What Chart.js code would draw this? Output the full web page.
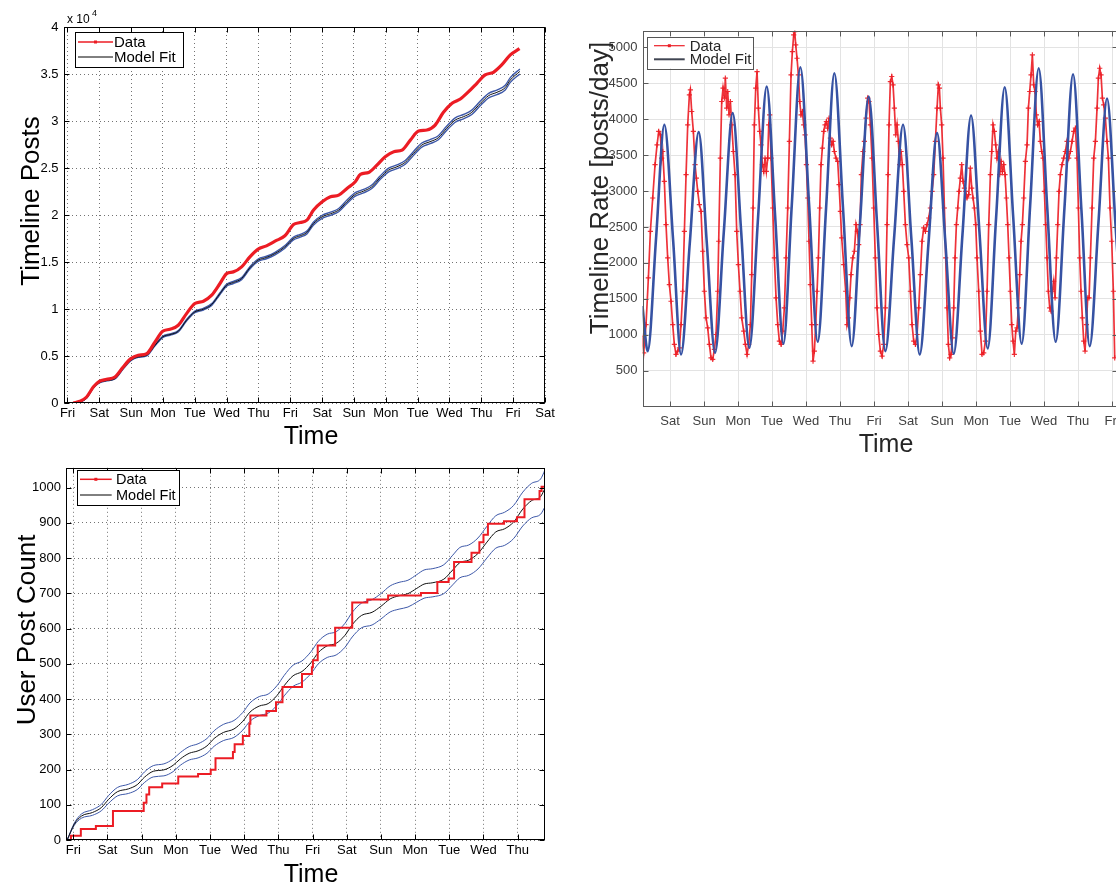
<!DOCTYPE html>
<html>
<head>
<meta charset="utf-8">
<title>Timeline posts</title>
<script src="https://cdn.jsdelivr.net/npm/chart.js@4.4.1/dist/chart.umd.min.js"></script>
<style>
  html, body { margin: 0; padding: 0; background: #fff; }
  body { width: 1116px; height: 886px; overflow: hidden; position: relative; }
  canvas { position: absolute; }
</style>
</head>
<body>
<canvas id="postsChart" width="560" height="450" style="left:0;top:0"></canvas>
<canvas id="rateChart" width="580" height="460" style="left:570px;top:0"></canvas>
<canvas id="userChart" width="560" height="434" style="left:0;top:455px"></canvas>
<script>
Chart.defaults.font.family = '"Liberation Sans", Arial, Helvetica, sans-serif';
Chart.defaults.animation = false;

// x values are days since the first Friday midnight
var dayNames = ['Fri', 'Sat', 'Sun', 'Mon', 'Tue', 'Wed', 'Thu'];

// ---- Timeline posts (cumulative) ----
var postsT = [0.18, 0.39, 0.60, 0.81, 1.0, 1.23, 1.49, 1.75, 1.99, 2.22, 2.49, 2.75, 2.99, 3.22, 3.48, 3.74, 4.0, 4.27, 4.53, 4.79,
  5.0, 5.21, 5.47, 5.73, 5.99, 6.25, 6.52, 6.83, 7.10, 7.31, 7.52, 7.73, 8.0, 8.26, 8.52, 8.78, 9.04, 9.2, 9.46, 9.72,
  9.98, 10.25, 10.51, 10.77, 11.03, 11.29, 11.55, 11.81, 12.08, 12.34, 12.6, 12.86, 13.12, 13.38, 13.64, 13.91, 14.2];
var postsV = [0, 180, 640, 1700, 2310, 2520, 2770, 3830, 4720, 5080, 5250, 6500, 7630, 7850, 8270, 9510, 10580, 10830, 11470, 12710,
  13770, 13950, 14480, 15550, 16370, 16720, 17220, 17790, 18990, 19200, 19450, 20520, 21400, 21940, 22120, 22830, 23540, 24320, 24530, 25310,
  26200, 26730, 26910, 27970, 28930, 29040, 29570, 30920, 31880, 32340, 33120, 34010, 34900, 35180, 35960, 37030, 37700];
var postsFitT = [0.18, 0.39, 0.6, 0.81, 1.0, 1.23, 1.49, 1.75, 1.99, 2.22, 2.49, 2.75, 2.99, 3.22, 3.48, 3.74, 4.0, 4.27, 4.53, 4.79,
  5.0, 5.21, 5.47, 5.73, 5.99, 6.25, 6.52, 6.83, 7.10, 7.31, 7.52, 7.73, 8.0, 8.26, 8.52, 8.78, 9.04, 9.30, 9.56, 9.82,
  10.09, 10.35, 10.61, 10.87, 11.13, 11.39, 11.65, 11.91, 12.18, 12.44, 12.7, 12.97, 13.23, 13.49, 13.75, 13.91, 14.21];
var postsFitV = [0, 106, 530, 1600, 2170, 2380, 2590, 3660, 4540, 4900, 5080, 6140, 7030, 7280, 7630, 8800, 9690, 9980, 10480, 11640,
  12530, 12820, 13240, 14380, 15190, 15480, 15900, 16610, 17500, 17790, 18140, 19100, 19810, 20130, 20520, 21410, 22190, 22540, 23000, 23960,
  24780, 25130, 25600, 26550, 27440, 27800, 28220, 29220, 30100, 30460, 30920, 31880, 32700, 33050, 33550, 34360, 35270];
// half width of the blue confidence band around the fit
var postsFitHalf = [0, 5, 10, 18, 25, 28, 32, 40, 48, 52, 55, 62, 70, 72, 75, 82, 90, 92, 95, 102,
  110, 112, 115, 122, 130, 132, 135, 140, 148, 150, 152, 158, 165, 167, 170, 176, 182, 184, 187, 192,
  198, 200, 203, 208, 214, 216, 219, 224, 230, 232, 235, 240, 245, 247, 250, 255, 260];

// ---- Timeline rate (posts/day) ----
var rateT = [
  0.167, 0.225, 0.294, 0.363, 0.422, 0.490, 0.559, 0.618, 0.667, 0.716, 0.755, 0.784, 0.833, 0.882, 0.931, 0.980,
  1.029, 1.078, 1.127, 1.176, 1.225, 1.275, 1.324, 1.373, 1.422, 1.471, 1.520, 1.569, 1.598, 1.637, 1.686, 1.735, 1.775, 1.814, 1.863, 1.912, 1.961,
  2.010, 2.059, 2.108, 2.157, 2.206, 2.255, 2.304, 2.353, 2.402, 2.431, 2.480, 2.520, 2.559, 2.598, 2.627, 2.667, 2.696, 2.735, 2.775, 2.814, 2.863, 2.912, 2.961,
  3.010, 3.059, 3.108, 3.167, 3.216, 3.265, 3.314, 3.363, 3.402, 3.441, 3.480, 3.520, 3.559, 3.598, 3.637, 3.676, 3.716, 3.755, 3.794, 3.833, 3.873, 3.902, 3.931, 3.971,
  4.020, 4.069, 4.118, 4.167, 4.216, 4.265, 4.314, 4.363, 4.412, 4.461, 4.510, 4.559, 4.598, 4.637, 4.667, 4.696, 4.735, 4.775, 4.814, 4.853, 4.892, 4.931, 4.971,
  5.010, 5.049, 5.088, 5.127, 5.167, 5.206, 5.245, 5.284, 5.324, 5.363, 5.402, 5.441, 5.480, 5.520, 5.559, 5.598, 5.637, 5.676, 5.716, 5.755, 5.794, 5.833, 5.882, 5.931, 5.971,
  6.010, 6.049, 6.108, 6.167, 6.206, 6.245, 6.284, 6.324, 6.373, 6.422, 6.471, 6.510, 6.549, 6.588, 6.627, 6.676, 6.716, 6.765, 6.814, 6.853, 6.892, 6.941, 6.990,
  7.039, 7.088, 7.137, 7.186, 7.235, 7.284, 7.333, 7.382, 7.412, 7.441, 7.480, 7.520, 7.559, 7.598, 7.637, 7.676, 7.716, 7.755, 7.794, 7.833, 7.873, 7.922, 7.971,
  8.020, 8.069, 8.118, 8.167, 8.216, 8.265, 8.314, 8.363, 8.412, 8.461, 8.510, 8.559, 8.608, 8.657, 8.706, 8.755, 8.804, 8.853, 8.892, 8.922, 8.951, 8.990,
  9.029, 9.069, 9.108, 9.147, 9.186, 9.225, 9.265, 9.304, 9.343, 9.382, 9.422, 9.461, 9.500, 9.539, 9.578, 9.618, 9.657, 9.696, 9.735, 9.784, 9.833, 9.873, 9.912, 9.951, 9.990,
  10.029, 10.078, 10.127, 10.176, 10.225, 10.275, 10.324, 10.373, 10.422, 10.461, 10.500, 10.539, 10.578, 10.618, 10.657, 10.696, 10.735, 10.775, 10.814, 10.853, 10.892, 10.931, 10.971,
  11.010, 11.049, 11.088, 11.127, 11.167, 11.206, 11.245, 11.284, 11.324, 11.363, 11.402, 11.451, 11.500, 11.539, 11.578, 11.618, 11.657, 11.696, 11.735, 11.775, 11.814, 11.853, 11.892, 11.931, 11.971,
  12.010, 12.049, 12.088, 12.127, 12.167, 12.206, 12.245, 12.284, 12.324, 12.363, 12.402, 12.441, 12.480, 12.529, 12.578, 12.627, 12.676, 12.725, 12.775, 12.824, 12.873, 12.922, 12.971,
  13.010, 13.049, 13.088, 13.127, 13.167, 13.206, 13.245, 13.284, 13.324, 13.363, 13.412, 13.461, 13.510, 13.559, 13.598, 13.637, 13.676, 13.716, 13.755, 13.804, 13.853, 13.892, 13.941, 13.990,
  14.039, 14.078];
var rateV = [
  981, 750, 1143, 1791, 2440, 2903, 3366, 3643, 3829, 3782, 3458, 3550, 3134, 2532, 2069, 1699,
  1467, 1143, 866, 727, 773, 819, 1143, 1606, 2440, 3227, 3921, 4338, 4407, 4106, 3829, 3366, 3180, 2995, 2810, 2717, 2162,
  1606, 1236, 1097, 866, 680, 657, 796, 1004, 1606, 2301, 3458, 4245, 4431, 4292, 4569, 4153, 4384, 4060, 4245, 3921, 3550, 3227, 2440,
  1977, 1606, 1236, 1051, 866, 727, 866, 1143, 1838, 2764, 3921, 4431, 4662, 4153, 3829, 3643, 3366, 3273, 3458, 3273, 3458, 3921, 4060, 3458,
  2764, 2069, 1514, 1143, 912, 866, 1051, 1375, 2069, 2764, 3690, 4616, 4940, 5171, 5218, 5032, 4847, 4616, 4245, 4060, 4106, 3921, 3782,
  3366, 2903, 2301, 1699, 1143, 634, 773, 1143, 1606, 2069, 2764, 3366, 3597, 3829, 3921, 3967, 3875, 4014, 3736, 3643, 3690, 3550, 3458, 3412, 3088,
  2717, 2347, 1977, 1606, 1143, 1236, 1514, 1838, 2069, 2162, 2532, 2440, 2255, 2532, 3227, 3550, 3690, 4014, 4292, 4245, 3921, 3458, 2764,
  2069, 1375, 1004, 773, 703, 866, 1375, 2532, 3227, 3921, 4523, 4593, 4477, 4153, 3782, 3921, 3690, 3366, 3550, 3366, 2995, 2532, 2255,
  2069, 1606, 1143, 912, 866, 1004, 1375, 1838, 2301, 2486, 2440, 2532, 2625, 2764, 2995, 3227, 3690, 4153, 4477, 4431, 4153, 3921,
  3458, 2764, 2069, 1375, 866, 680, 727, 958, 1375, 2069, 2532, 2764, 2995, 3180, 3366, 3134, 3041, 2995, 2903, 2949, 3319, 3041, 2903, 2764, 2532,
  2069, 1606, 1051, 727, 750, 912, 1606, 2532, 3227, 3550, 3921, 3829, 3643, 3458, 3550, 3227, 3412, 3273, 3366, 3227, 2903, 2532, 2069,
  1606, 1143, 912, 727, 1051, 1097, 1375, 1838, 2301, 2532, 2903, 3412, 3643, 4153, 4384, 4616, 4893, 4477, 4384, 4060, 3921, 3967, 3690, 3550, 3458,
  2995, 2532, 2069, 1606, 1375, 1329, 1606, 1745, 1514, 2069, 2532, 2995, 3227, 3366, 3458, 3550, 3690, 3458, 3550, 3690, 3829, 3875, 3458,
  2764, 2069, 1606, 1236, 912, 773, 1143, 1514, 1514, 2069, 2764, 3458, 3690, 4153, 4569, 4708, 4616, 4292, 4199, 4014, 3690, 3458, 2764, 2301,
  1606, 680];
var rateFitT = [0.19, 0.343, 0.59, 0.833, 1.09, 1.324, 1.58, 1.843, 2.08, 2.324, 2.58, 2.843, 3.09, 3.333, 3.59, 3.843, 4.09, 4.333, 4.58, 4.833,
  5.09, 5.343, 5.59, 5.833, 6.09, 6.343, 6.59, 6.843, 7.09, 7.333, 7.59, 7.853, 8.1, 8.343, 8.6, 8.853, 9.1, 9.343, 9.6, 9.853,
  10.1, 10.343, 10.59, 10.843, 11.09, 11.343, 11.59, 11.843, 12.09, 12.343, 12.6, 12.853, 13.1, 13.343, 13.6, 13.853, 14.1, 14.34];
var rateFitV = [1400, 773, 2350, 3921, 2320, 727, 2270, 3819, 2285, 750, 2420, 4083, 2450, 819, 2640, 4454, 2660, 875, 2800, 4722,
  2810, 903, 2770, 4639, 2740, 842, 2580, 4315, 2540, 773, 2350, 3921, 2320, 727, 2265, 3806, 2270, 736, 2390, 4051,
  2430, 810, 2630, 4444, 2660, 875, 2790, 4708, 2800, 903, 2760, 4625, 2730, 842, 2560, 4287, 2540, 780];

// ---- User post count ----
var userT = [-0.21, -0.07, 0.22, 0.66, 1.16, 2.06, 2.14, 2.22, 2.6, 3.07, 3.65, 4.02, 4.16, 4.67, 4.72, 4.96, 5.15, 5.18, 5.65, 5.93,
  6.12, 6.69, 6.98, 7.01, 7.15, 7.66, 8.16, 8.6, 9.21, 10.17, 10.65, 10.98, 11.14, 11.65, 11.88, 12.0, 12.13, 12.6, 12.98, 13.2,
  13.64, 13.7, 13.8];
var userV = [0, 12, 31, 40, 82, 106, 129, 150, 160, 180, 187, 199, 232, 250, 272, 295, 330, 353, 366, 391,
  434, 471, 490, 510, 552, 602, 674, 682, 694, 701, 732, 742, 789, 815, 845, 866, 897, 904, 916, 967,
  990, 1002, 1002];
var userFitT = [-0.18, 0.03, 0.24, 0.56, 0.82, 1.03, 1.29, 1.61, 1.87, 2.08, 2.34, 2.65, 2.92, 3.13, 3.39, 3.65, 3.91, 4.12, 4.39, 4.7,
  4.96, 5.17, 5.44, 5.7, 5.96, 6.17, 6.43, 6.69, 6.96, 7.17, 7.43, 7.69, 7.95, 8.16, 8.43, 8.74, 9.0, 9.27, 9.53, 9.79,
  10.05, 10.26, 10.52, 10.84, 11.1, 11.31, 11.57, 11.84, 12.1, 12.36, 12.62, 12.88, 13.15, 13.41, 13.67, 13.8];
var userFitV = [0, 45, 68, 78, 92, 115, 137, 145, 157, 178, 195, 199, 212, 230, 246, 253, 267, 288, 305, 315,
  337, 363, 380, 387, 410, 438, 466, 478, 504, 532, 551, 558, 581, 611, 637, 646, 663, 684, 693, 699,
  714, 726, 730, 740, 766, 787, 794, 813, 845, 874, 883, 902, 939, 963, 974, 998];
var userFitHalf = [0, 3, 6, 8, 9, 11, 12, 13, 14, 15, 16, 17, 18, 18, 19, 20, 21, 22, 23, 24,
  25, 26, 27, 27, 28, 29, 30, 30, 31, 32, 33, 33, 34, 35, 35, 36, 36, 37, 38, 38,
  39, 40, 40, 41, 42, 43, 43, 44, 45, 46, 47, 47, 48, 49, 50, 52];

// ---------------------------------------------------------------
function pts(t, v, half, sign) {
  return t.map(function (x, i) {
    return { x: x, y: v[i] + (half ? sign * half[i] : 0) };
  });
}

function stepTicks(from, to, step) {
  return function (axis) {
    axis.ticks = [];
    for (var v = from; v <= to + 1e-9; v += step) axis.ticks.push({ value: v });
  };
}

function dayAxis(o) {
  return {
    type: 'linear', min: o.min, max: o.max,
    afterBuildTicks: stepTicks(o.first, o.last, 1),
    afterFit: function (s) { s.height = o.height; },
    ticks: { autoSkip: false, maxRotation: 0, padding: o.pad, color: o.tickColor, font: { size: 13 },
      callback: function (v) { return dayNames[((v % 7) + 7) % 7]; } },
    grid: { color: o.gridColor, drawTicks: false, lineWidth: 1 },
    border: { display: false, dash: o.dash }
  };
}

function valueAxis(o) {
  return {
    type: 'linear', min: o.min, max: o.max,
    afterBuildTicks: stepTicks(o.first, o.last, o.step),
    afterFit: function (s) { s.width = o.width; },
    ticks: { padding: 5, color: o.tickColor, font: { size: 13 }, callback: o.label },
    grid: { color: o.gridColor, drawTicks: false, lineWidth: 1 },
    border: { display: false, dash: o.dash }
  };
}

// axes box with inward tick marks
function framePlugin(color, len) {
  return {
    id: 'frame',
    afterDatasetsDraw: function (chart) {
      var ctx = chart.ctx, a = chart.chartArea, x = chart.scales.x, y = chart.scales.y;
      var l = Math.round(a.left) + 0.5, r = Math.round(a.right) - 0.5, t = Math.round(a.top) + 0.5, b = Math.round(a.bottom) - 0.5;
      ctx.save();
      ctx.strokeStyle = color;
      ctx.lineWidth = 1;
      ctx.strokeRect(l, t, r - l, b - t);
      ctx.beginPath();
      x.ticks.forEach(function (tk) {
        var px = Math.round(x.getPixelForValue(tk.value)) + 0.5;
        ctx.moveTo(px, b); ctx.lineTo(px, b - len);
        ctx.moveTo(px, t); ctx.lineTo(px, t + len);
      });
      y.ticks.forEach(function (tk) {
        var py = Math.round(y.getPixelForValue(tk.value)) + 0.5;
        ctx.moveTo(l, py); ctx.lineTo(l + len, py);
        ctx.moveTo(r, py); ctx.lineTo(r - len, py);
      });
      ctx.stroke();
      ctx.restore();
    }
  };
}

// axis titles, placed like the MATLAB figure (not centred on the axes)
function titlesPlugin(xt, yt, color) {
  return {
    id: 'axisTitles',
    afterDraw: function (chart) {
      var ctx = chart.ctx;
      ctx.save();
      ctx.fillStyle = color;
      ctx.textAlign = 'center';
      ctx.textBaseline = 'middle';
      ctx.font = '25px "Liberation Sans", Arial, sans-serif';
      ctx.fillText('Time', xt.x, xt.y);
      ctx.translate(yt.x, yt.y);
      ctx.rotate(-Math.PI / 2);
      ctx.font = '26px "Liberation Sans", Arial, sans-serif';
      ctx.fillText(yt.text, 0, 0);
      ctx.restore();
    }
  };
}

function legendPlugin(box, entries, st) {
  return {
    id: 'boxLegend',
    afterDraw: function (chart) {
      var ctx = chart.ctx;
      ctx.save();
      ctx.fillStyle = '#fff';
      ctx.fillRect(box.x, box.y, box.w, box.h);
      ctx.strokeStyle = st.border;
      ctx.lineWidth = 1;
      ctx.strokeRect(Math.round(box.x) + 0.5, Math.round(box.y) + 0.5, Math.round(box.w), Math.round(box.h));
      ctx.font = st.font;
      ctx.textBaseline = 'middle';
      entries.forEach(function (e, i) {
        var yy = box.y + st.row0 + i * st.gap;
        var x0 = box.x + st.lx0, x1 = box.x + st.lx1;
        ctx.strokeStyle = e.color;
        ctx.lineWidth = e.width;
        ctx.beginPath(); ctx.moveTo(x0, yy); ctx.lineTo(x1, yy); ctx.stroke();
        if (e.dot) {
          ctx.fillStyle = e.color;
          ctx.fillRect((x0 + x1) / 2 - 1.5, yy - 1.5, 3, 3);
        }
        ctx.fillStyle = st.text;
        ctx.fillText(e.label, box.x + st.tx, yy + 1);
      });
      ctx.restore();
    }
  };
}

var exponentPlugin = {
  id: 'exponent',
  afterDraw: function (chart) {
    var ctx = chart.ctx;
    ctx.save();
    ctx.fillStyle = '#000';
    ctx.textBaseline = 'alphabetic';
    ctx.font = '12px "Liberation Sans", Arial, sans-serif';
    ctx.fillText('x 10', 67, 23);
    ctx.font = '9px "Liberation Sans", Arial, sans-serif';
    ctx.fillText('4', 92, 16);
    ctx.restore();
  }
};

function baseOptions(pad, x, y) {
  return {
    responsive: false,
    animation: false,
    layout: { padding: pad },
    scales: { x: x, y: y },
    plugins: { legend: { display: false }, tooltip: { enabled: false } },
    elements: { point: { radius: 0 } }
  };
}

var dotted = [1, 3];
var dotGrid = 'rgba(0,0,0,0.55)';

// Timeline Posts
new Chart(document.getElementById('postsChart'), {
  type: 'line',
  data: {
    datasets: [
      { data: pts(postsT, postsV), borderColor: '#ec1c24', borderWidth: 3.2, cubicInterpolationMode: 'monotone' },
      { data: pts(postsFitT, postsFitV), borderColor: '#111', borderWidth: 1, cubicInterpolationMode: 'monotone' },
      { data: pts(postsFitT, postsFitV, postsFitHalf, 1), borderColor: '#3d58a8', borderWidth: 1.4, cubicInterpolationMode: 'monotone' },
      { data: pts(postsFitT, postsFitV, postsFitHalf, -1), borderColor: '#3d58a8', borderWidth: 1.4, cubicInterpolationMode: 'monotone' }
    ]
  },
  options: baseOptions({ top: 27, right: 15, bottom: 0, left: 0 },
    dayAxis({ min: -0.125, max: 15, first: 0, last: 15, height: 47, pad: 3, tickColor: '#000', gridColor: dotGrid, dash: dotted }),
    valueAxis({ min: 0, max: 40000, first: 0, last: 40000, step: 5000, width: 63.5, tickColor: '#000', gridColor: dotGrid, dash: dotted,
      label: function (v) { return v / 10000; } })),
  plugins: [framePlugin('#000', 5), exponentPlugin,
    titlesPlugin({ x: 311, y: 437 }, { x: 32, y: 201, text: 'Timeline Posts' }, '#000'),
    legendPlugin({ x: 75, y: 32, w: 108, h: 35 },
      [{ label: 'Data', color: '#ec1c24', width: 1.5, dot: true }, { label: 'Model Fit', color: '#000', width: 1 }],
      { border: '#000', text: '#000', font: '15px "Liberation Sans", Arial, sans-serif', row0: 10, gap: 15, lx0: 3, lx1: 38, tx: 39 })]
});

// Timeline Rate
new Chart(document.getElementById('rateChart'), {
  type: 'line',
  data: {
    datasets: [
      { data: pts(rateFitT, rateFitV), borderColor: '#3652a3', borderWidth: 2.6, cubicInterpolationMode: 'monotone' },
      { data: pts(rateT, rateV), borderColor: 'rgba(236,28,36,0.9)', borderWidth: 1.7, tension: 0,
        pointStyle: 'cross', pointRadius: 2.6, pointBorderWidth: 1.2, pointBorderColor: 'rgba(236,28,36,0.9)' }
    ]
  },
  options: baseOptions({ top: 30.7, right: 32, bottom: 0, left: 0 },
    dayAxis({ min: 0.19, max: 14.175, first: 1, last: 14, height: 53.3, pad: 7, tickColor: '#404040', gridColor: '#e3e3e3', dash: [] }),
    valueAxis({ min: 0, max: 5230, first: 500, last: 5000, step: 500, width: 72.5, tickColor: '#404040', gridColor: '#e3e3e3', dash: [],
      label: function (v) { return v; } })),
  plugins: [framePlugin('#5a5a5a', 5),
    titlesPlugin({ x: 316, y: 445 }, { x: 31, y: 188, text: 'Timeline Rate [posts/day]' }, '#262626'),
    legendPlugin({ x: 77.3, y: 36.7, w: 105.7, h: 31.6 },
      [{ label: 'Data', color: '#ec2028', width: 1.2, dot: true }, { label: 'Model Fit', color: '#404552', width: 2 }],
      { border: '#555', text: '#262626', font: '15px "Liberation Sans", Arial, sans-serif', row0: 9, gap: 13.6, lx0: 6.7, lx1: 37.4, tx: 42.4 })]
});

// User Post Count
new Chart(document.getElementById('userChart'), {
  type: 'line',
  data: {
    datasets: [
      { data: pts(userT, userV), borderColor: '#ec1c24', borderWidth: 2, stepped: 'before' },
      { data: pts(userFitT, userFitV), borderColor: '#111', borderWidth: 1, cubicInterpolationMode: 'monotone' },
      { data: pts(userFitT, userFitV, userFitHalf, 1), borderColor: '#3d58a8', borderWidth: 1, cubicInterpolationMode: 'monotone' },
      { data: pts(userFitT, userFitV, userFitHalf, -1), borderColor: '#3d58a8', borderWidth: 1, cubicInterpolationMode: 'monotone' }
    ]
  },
  options: baseOptions({ top: 10, right: 15, bottom: 0, left: 0 },
    dayAxis({ min: -0.214, max: 13.8, first: 0, last: 13, height: 49, pad: 3, tickColor: '#000', gridColor: dotGrid, dash: dotted }),
    valueAxis({ min: 0, max: 1056, first: 0, last: 1000, step: 100, width: 66, tickColor: '#000', gridColor: dotGrid, dash: dotted,
      label: function (v) { return v; } })),
  plugins: [framePlugin('#000', 5),
    titlesPlugin({ x: 311, y: 420 }, { x: 28, y: 175, text: 'User Post Count' }, '#000'),
    legendPlugin({ x: 77.3, y: 15, w: 101.7, h: 35 },
      [{ label: 'Data', color: '#ec1c24', width: 1.5, dot: true }, { label: 'Model Fit', color: '#000', width: 1 }],
      { border: '#000', text: '#000', font: '14.5px "Liberation Sans", Arial, sans-serif', row0: 9.3, gap: 15.7, lx0: 2.7, lx1: 34.4, tx: 38.7 })]
});
</script>
</body>
</html>
